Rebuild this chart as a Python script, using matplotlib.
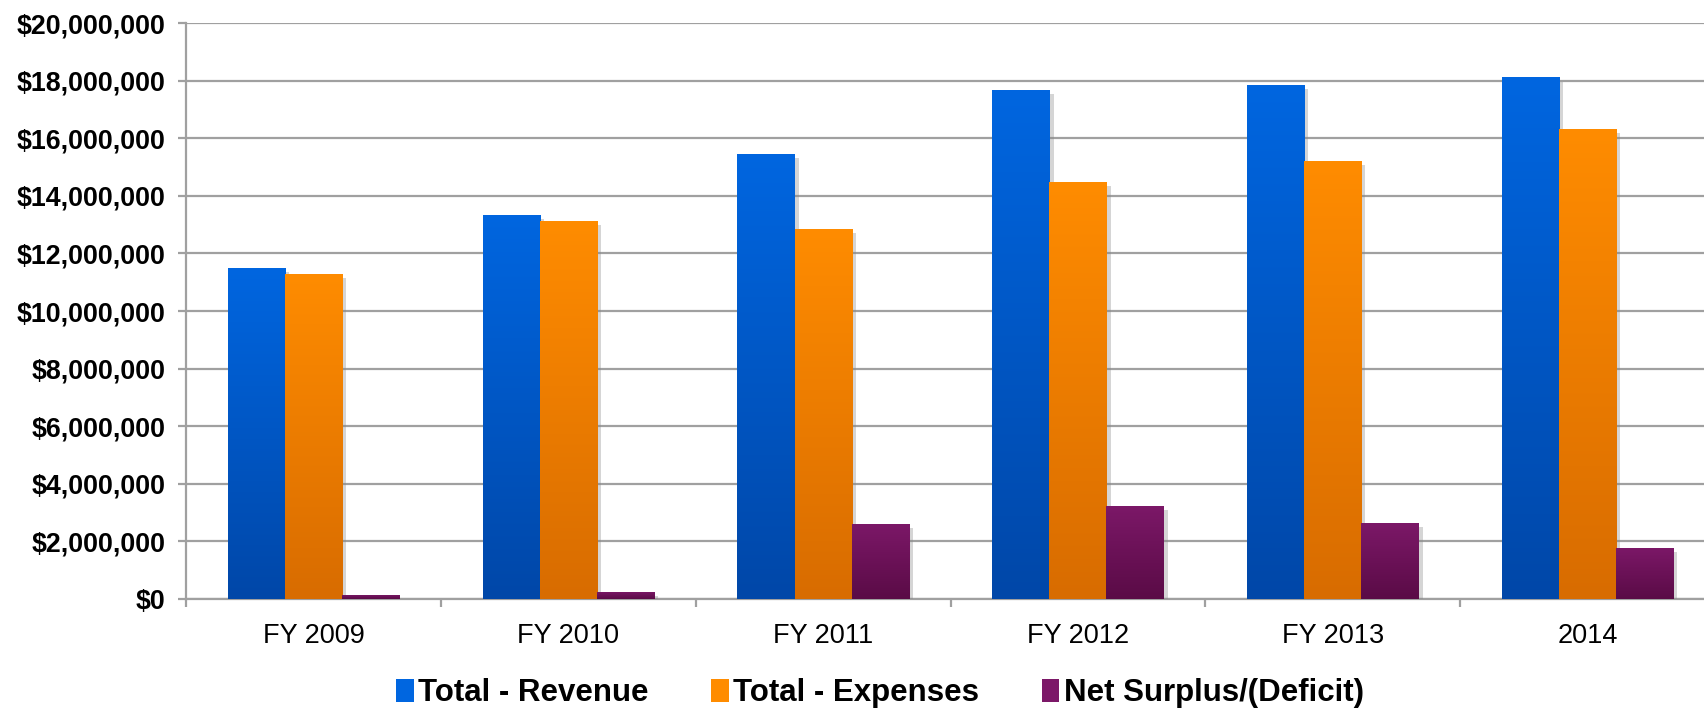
import numpy as np
import matplotlib
matplotlib.use("Agg")
import matplotlib.pyplot as plt
from matplotlib.colors import LinearSegmentedColormap
from matplotlib.ticker import FuncFormatter, FixedLocator
from matplotlib import patheffects as pe

categories = ["FY 2009", "FY 2010", "FY 2011", "FY 2012", "FY 2013", "2014"]
revenue = [11490000, 13350000, 15460000, 17690000, 17850000, 18110000]
expenses = [11300000, 13120000, 12850000, 14480000, 15200000, 16330000]
net_surplus = [150000, 260000, 2610000, 3230000, 2650000, 1780000]
series_names = ["Total - Revenue", "Total - Expenses", "Net Surplus/(Deficit)"]

# top, bottom colour of each gradient
grads = [("#0066E0", "#0047A8"), ("#FF8C00", "#D86C00"), ("#7C1868", "#5A0B46")]

plt.rcParams["font.family"] = ["Liberation Sans", "DejaVu Sans"]

fig = plt.figure(figsize=(17.04, 7.14), dpi=100)
ax = fig.add_axes([186 / 1704, 115 / 714, 1529 / 1704, 576 / 714])

x = np.arange(len(categories))
w = 0.224
grid_c = "#A0A0A0"

handles = []
for i, (vals, name, (c_top, c_bot)) in enumerate(zip([revenue, expenses, net_surplus], series_names, grads)):
    bars = ax.bar(x + (i - 1) * w, vals, width=w, color=c_top, label=name, zorder=3,
                  linewidth=0)
    cmap = LinearSegmentedColormap.from_list("g%d" % i, [c_bot, c_top])
    grad = np.linspace(0, 1, 256).reshape(-1, 1)
    for b in bars:
        b.set_path_effects([pe.SimplePatchShadow(offset=(3, -3), shadow_rgbFace="#888888", alpha=0.35),
                            pe.Normal()])
        bx, by = b.get_x(), b.get_y()
        bw, bh = b.get_width(), b.get_height()
        im = ax.imshow(grad, extent=[bx, bx + bw, by, by + bh], origin="lower",
                       cmap=cmap, aspect="auto", zorder=4, interpolation="bilinear")
        im.set_clip_path(b)
    handles.append(bars)

ax.set_xlim(-0.5, len(categories) - 0.5)
ax.set_ylim(0, 20000000)
ax.set_aspect("auto")

ax.yaxis.set_major_locator(FixedLocator(np.arange(0, 20000001, 2000000)))
ax.yaxis.set_major_formatter(FuncFormatter(lambda v, p: "${:,.0f}".format(v)))
ax.grid(axis="y", color=grid_c, linewidth=1.6, zorder=0)
ax.set_axisbelow(True)

ax.set_xticks(x)
ax.set_xticklabels(categories)
ax.set_xticks(np.arange(-0.5, len(categories)), minor=True)
ax.tick_params(axis="x", which="major", length=0, pad=17, labelsize=19.5)
ax.tick_params(axis="x", which="minor", length=6, width=1.6, color=grid_c, direction="out")
ax.tick_params(axis="y", length=6, width=1.6, color=grid_c, pad=9, labelsize=19.3)
for lbl in ax.get_yticklabels():
    lbl.set_fontweight("bold")

for s in ["top", "right"]:
    ax.spines[s].set_visible(False)
for s in ["left", "bottom"]:
    ax.spines[s].set_color(grid_c)
    ax.spines[s].set_linewidth(1.6)

leg = fig.legend(handles=handles, labels=series_names, loc="center",
                 bbox_to_anchor=(880 / 1704, 1 - 693 / 714),
                 ncol=3, frameon=False, prop={"weight": "bold", "size": 22.5},
                 handlelength=0.55, handleheight=0.75, handletextpad=0.15, columnspacing=2.0)
for h, (c_top, c_bot) in zip(leg.legend_handles, grads):
    h.set_path_effects([])
    h.set_facecolor(c_top)
    h.set_edgecolor("none")

fig.savefig("out.png", dpi=100)
